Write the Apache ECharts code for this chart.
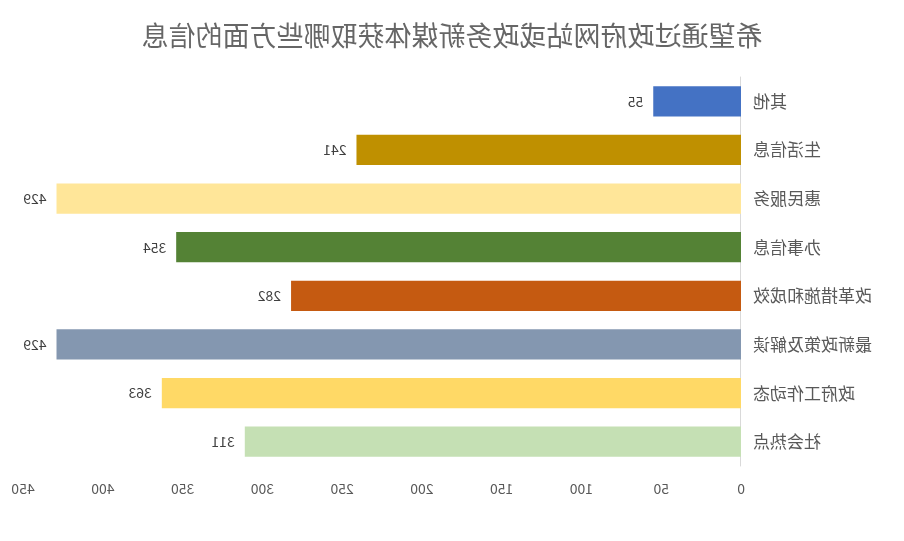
<!DOCTYPE html>
<html>
<head>
<meta charset="utf-8">
<script src="https://cdn.jsdelivr.net/npm/echarts@6/dist/echarts.min.js"></script>
<style>
  html, body { margin: 0; padding: 0; background: #fff; }
  /* the reference is a mirror image of the chart */
  #chart { width: 904px; height: 541px; transform: scaleX(-1); }
</style>
</head>
<body>
<div id="chart"></div>
<script>
const titleText = "希望通过政府网站或政务新媒体获取哪些方面的信息";
const categories = ["其他", "生活信息", "惠民服务", "办事信息", "改革措施和成效", "最新政策及解读", "政府工作动态", "社会热点"];
const values = [55, 241, 429, 354, 282, 429, 363, 311];
const barColors = ["#4472C4", "#BF9000", "#FFE699", "#548235", "#C55A11", "#8497B0", "#FFD966", "#C5E0B4"];

const font = '"Noto Sans CJK SC", "Noto Sans", sans-serif';

const chart = echarts.init(document.getElementById("chart"), null, { renderer: "canvas" });

chart.setOption({
  animation: false,
  title: {
    text: titleText,
    left: "center",
    top: 17,
    textStyle: { fontFamily: font, fontSize: 27, fontWeight: "normal", color: "#666666" }
  },
  grid: { left: 163, right: 23, top: 77, bottom: 75, containLabel: false },
  xAxis: {
    type: "value",
    min: 0,
    max: 450,
    interval: 50,
    axisLine: { show: false },
    axisTick: { show: false },
    splitLine: { show: false },
    axisLabel: { fontFamily: font, fontSize: 14, color: "#595959", margin: 16 }
  },
  yAxis: {
    type: "category",
    inverse: true,
    data: categories,
    axisLine: { show: true, lineStyle: { color: "#d9d9d9", width: 1 } },
    axisTick: { show: false },
    axisLabel: { fontFamily: font, fontSize: 17, color: "#595959", margin: 12 }
  },
  series: [{
    type: "bar",
    barCategoryGap: "38%",
    data: values.map((v, i) => ({ value: v, itemStyle: { color: barColors[i] } })),
    label: {
      show: true,
      position: "right",
      distance: 10,
      fontFamily: font,
      fontSize: 14,
      color: "#404040"
    }
  }]
});
</script>
</body>
</html>
